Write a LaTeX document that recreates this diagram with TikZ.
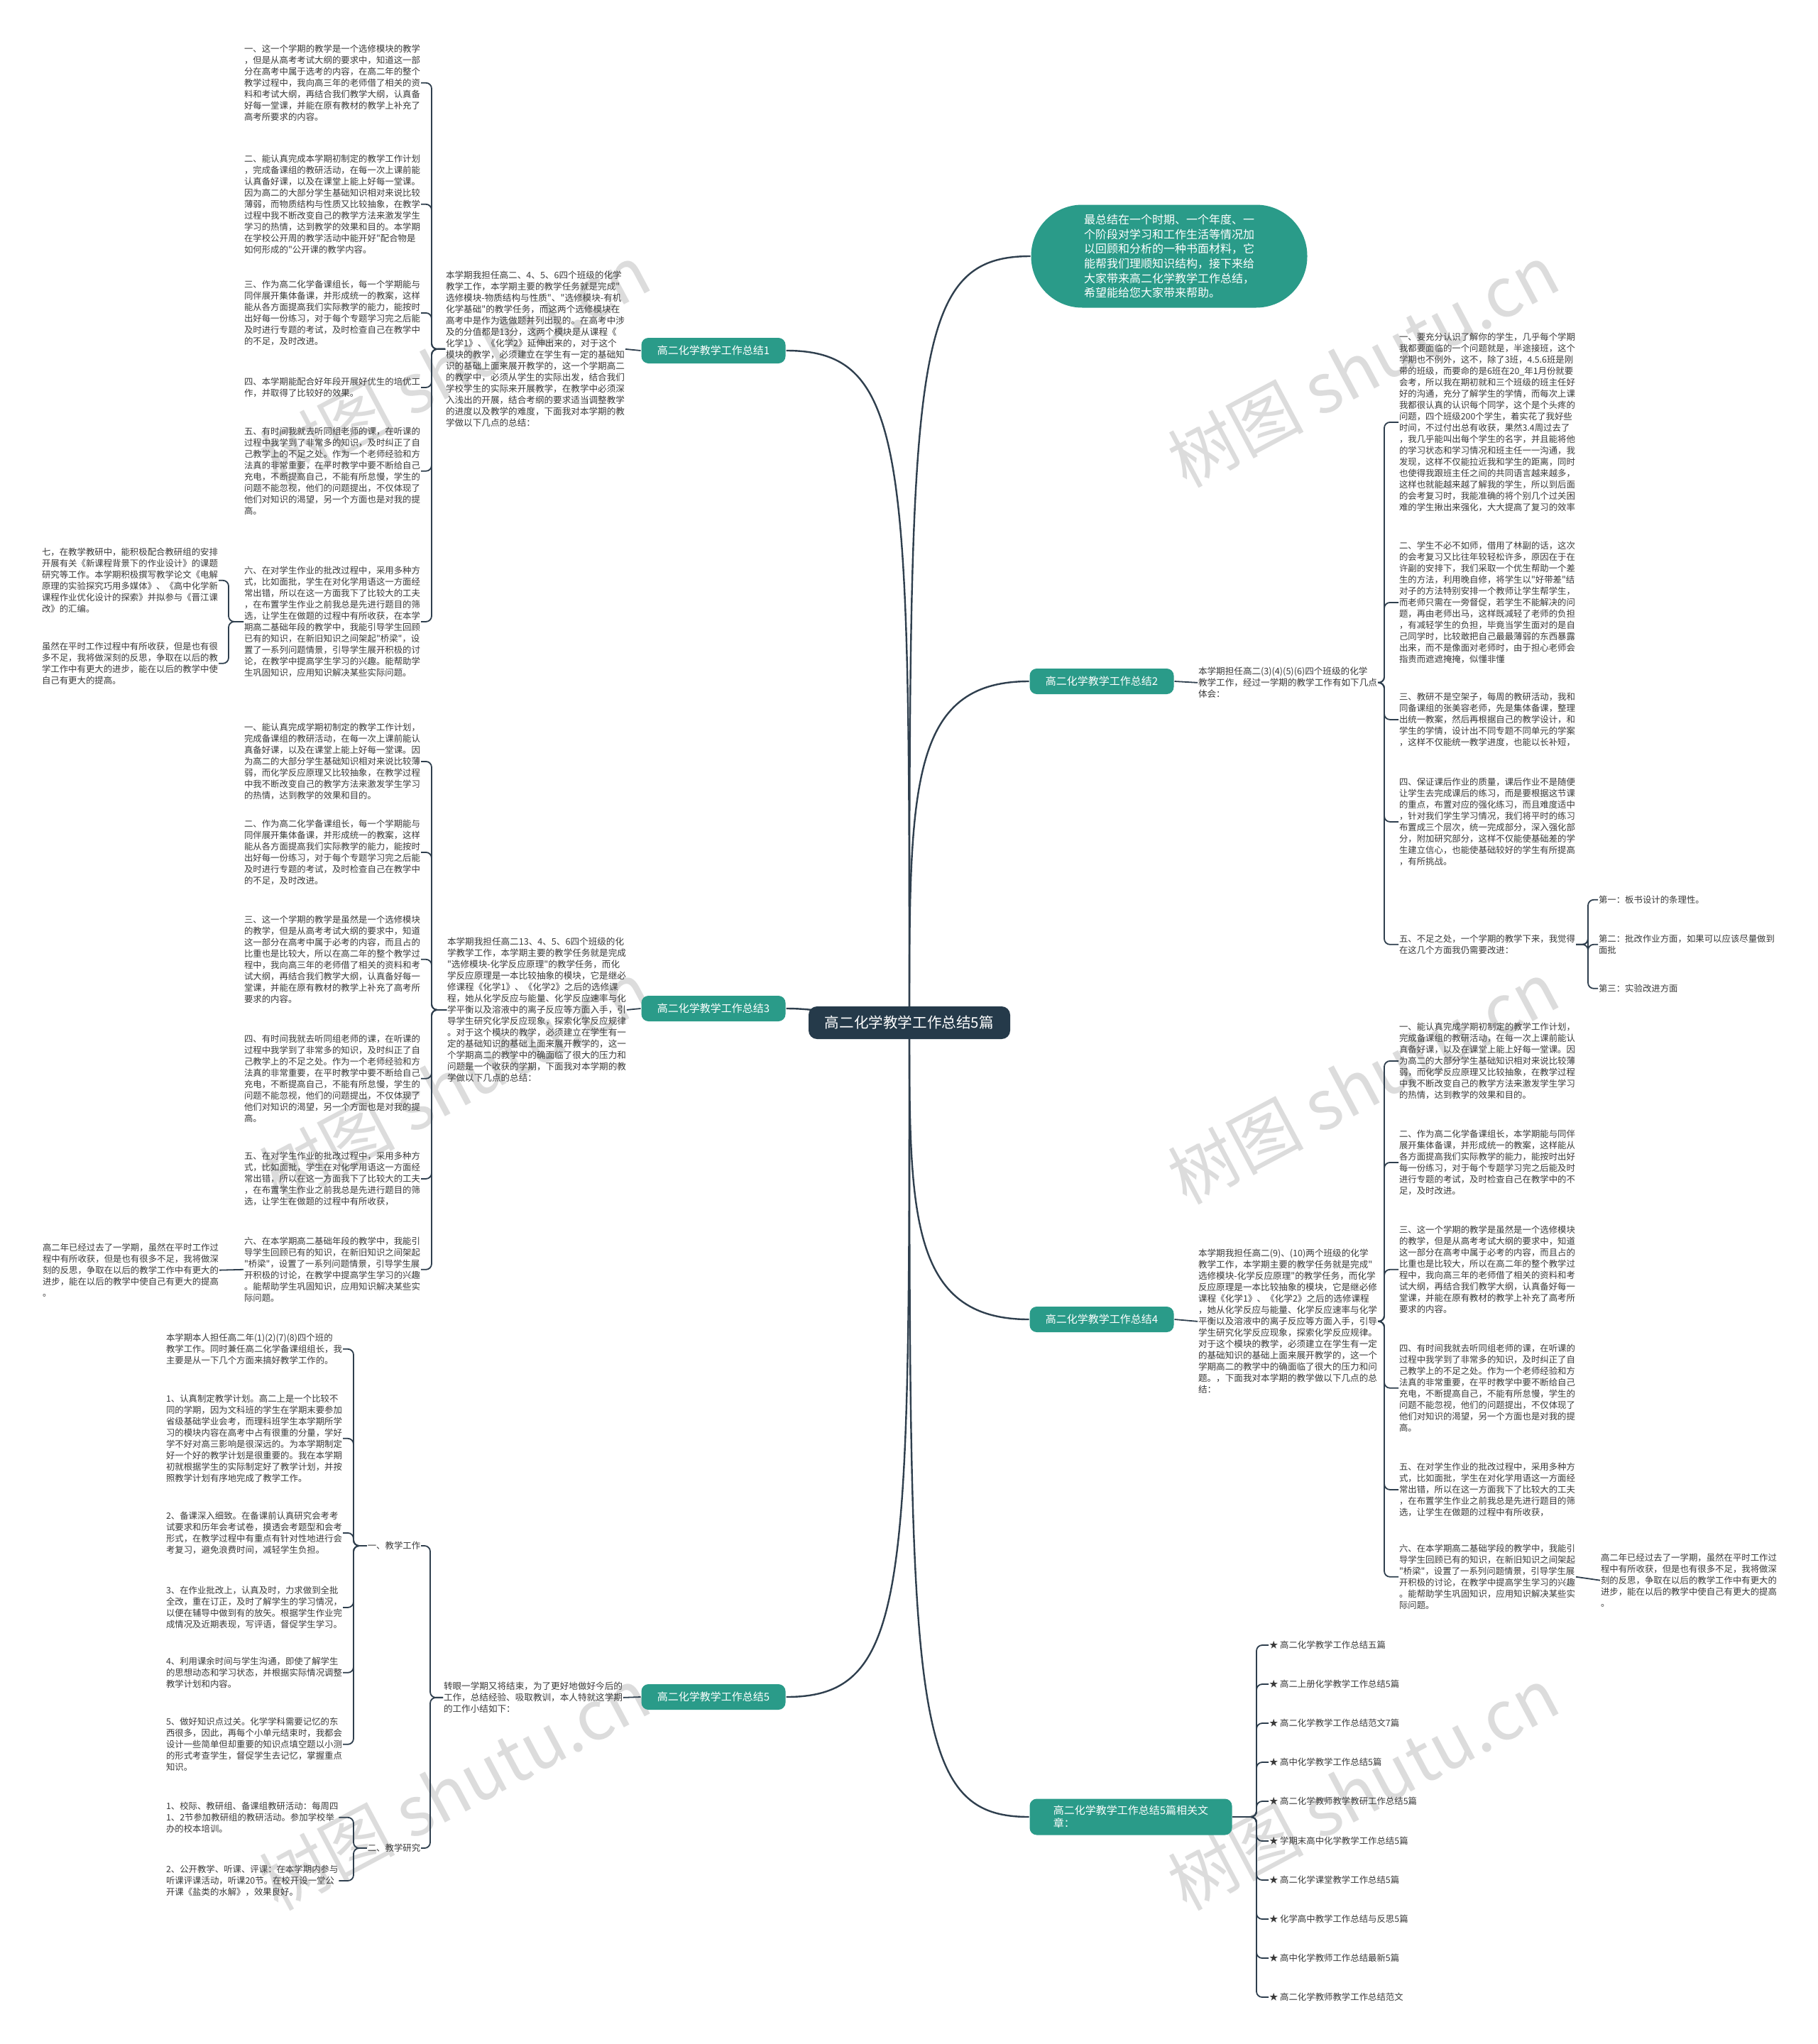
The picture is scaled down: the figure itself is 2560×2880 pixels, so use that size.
\documentclass[tikz,border=0pt]{standalone}
\usepackage{fontspec}
\newfontfamily\cjk{Noto Sans CJK SC}
\usetikzlibrary{calc, backgrounds}
\definecolor{cteal}{HTML}{2A9B89}
\definecolor{croot}{HTML}{253A4A}
\definecolor{cline}{HTML}{2F3F4E}
\definecolor{ctext}{HTML}{3A3A3A}
\definecolor{cwater}{HTML}{DCDCDC}
\tikzset{
  every picture/.style={font=\cjk, line width=1pt},
  hub/.style={fill=croot, text=white, rounded corners=6pt, minimum width=142pt, minimum height=23pt, font=\cjk\fontsize{10.3}{12}\selectfont},
  topic/.style={fill=cteal, text=white, rounded corners=5pt, minimum width=101.5pt, minimum height=18pt, inner sep=2pt, font=\cjk\fontsize{7.5}{9}\selectfont},
  bubble/.style={fill=cteal, text=white, rounded corners=36pt, minimum width=194.5pt, minimum height=72.5pt, align=left, font=\cjk\fontsize{8}{10.35}\selectfont},
  para/.style={anchor=north west, align=left, inner sep=0pt, text=ctext, font=\cjk\fontsize{6.2}{8}\selectfont},
  lead/.style={para, font=\cjk\fontsize{6.3}{8}\selectfont},
  leaf/.style={inner sep=0pt, text=ctext, font=\cjk\fontsize{6.2}{8}\selectfont},
  trunk/.style={draw=cline, line width=1.2pt},
  link/.style={draw=cline, line width=0.9pt, rounded corners=4pt},
  wmark/.style={text=cwater, rotate=28, font=\cjk\fontsize{48}{48}\selectfont},
}

\begin{document}
\begin{tikzpicture}[x=0.5pt, y=-0.5pt]
  \useasboundingbox (0,0) rectangle (2560,2880);

  % centre, intro and topics
  \node[hub] (root) at (1281,1441) {高二化学教学工作总结5篇};
  \node[bubble] (intro) at (1647,361) {最总结在一个时期、一个年度、一\\个阶段对学习和工作生活等情况加\\以回顾和分析的一种书面材料，它\\能帮我们理顺知识结构，接下来给\\大家带来高二化学教学工作总结，\\希望能给您大家带来帮助。};
  \node[topic] (b1) at (1005,494) {高二化学教学工作总结1};
  \node[topic] (b3) at (1005,1421) {高二化学教学工作总结3};
  \node[topic] (b5) at (1005,2391) {高二化学教学工作总结5};
  \node[topic] (b2) at (1552,960) {高二化学教学工作总结2};
  \node[topic] (b4) at (1552,1859) {高二化学教学工作总结4};
  \node[topic, align=left, minimum width=142.5pt, minimum height=25.5pt] (rel) at (1593,2560) {高二化学教学工作总结5篇相关文\\章：};

  % bracket columns
  \coordinate (br1) at (608,0);
  \coordinate (brf1) at (322,0);
  \coordinate (br3) at (608,0);
  \coordinate (br5) at (606,0);
  \coordinate (brk) at (498,0);
  \coordinate (br2) at (1950,0);
  \coordinate (brq) at (2237,0);
  \coordinate (br4) at (1950,0);
  \coordinate (brr) at (1770,0);

  % topic 1
  \node[lead] (d1) at (627,381) {本学期我担任高二、4、5、6四个班级的化学\\教学工作，本学期主要的教学任务就是完成"\\选修模块-物质结构与性质"、"选修模块-有机\\化学基础"的教学任务，而这两个选修模块在\\高考中是作为选做题并列出现的。在高考中涉\\及的分值都是13分，这两个模块是从课程《\\化学1》、《化学2》延伸出来的，对于这个\\模块的教学，必须建立在学生有一定的基础知\\识的基础上面来展开教学的，这一个学期高二\\的教学中，必须从学生的实际出发，结合我们\\学校学生的实际来开展教学，在教学中必须深\\入浅出的开展，结合考纲的要求适当调整教学\\的进度以及教学的难度，下面我对本学期的教\\学做以下几点的总结：};
  \node[para] (i1) at (343,62) {一、这一个学期的教学是一个选修模块的教学\\，但是从高考考试大纲的要求中，知道这一部\\分在高考中属于选考的内容，在高二年的整个\\教学过程中，我向高三年的老师借了相关的资\\料和考试大纲，再结合我们教学大纲，认真备\\好每一堂课，并能在原有教材的教学上补充了\\高考所要求的内容。};
  \node[para] (i2) at (343,217) {二、能认真完成本学期初制定的教学工作计划\\，完成备课组的教研活动，在每一次上课前能\\认真备好课，以及在课堂上能上好每一堂课。\\因为高二的大部分学生基础知识相对来说比较\\薄弱，而物质结构与性质又比较抽象，在教学\\过程中我不断改变自己的教学方法来激发学生\\学习的热情，达到教学的效果和目的。本学期\\在学校公开周的教学活动中能开好"配合物是\\如何形成的"公开课的教学内容。};
  \node[para] (i3) at (343,394) {三、作为高二化学备课组长，每一个学期能与\\同伴展开集体备课，并形成统一的教案，这样\\能从各方面提高我们实际教学的能力，能按时\\出好每一份练习，对于每个专题学习完之后能\\及时进行专题的考试，及时检查自己在教学中\\的不足，及时改进。};
  \node[para] (i4) at (343,531) {四、本学期能配合好年段开展好优生的培优工\\作，并取得了比较好的效果。};
  \node[para] (i5) at (343,601) {五、有时间我就去听同组老师的课，在听课的\\过程中我学到了非常多的知识，及时纠正了自\\己教学上的不足之处。作为一个老师经验和方\\法真的非常重要，在平时教学中要不断给自己\\充电，不断提高自己，不能有所怠慢，学生的\\问题不能忽视，他们的问题提出，不仅体现了\\他们对知识的渴望，另一个方面也是对我的提\\高。};
  \node[para] (i6) at (343,797) {六、在对学生作业的批改过程中，采用多种方\\式，比如面批，学生在对化学用语这一方面经\\常出错，所以在这一方面我下了比较大的工夫\\，在布置学生作业之前我总是先进行题目的筛\\选，让学生在做题的过程中有所收获，在本学\\期高二基础年段的教学中，我能引导学生回顾\\已有的知识，在新旧知识之间架起"桥梁"，设\\置了一系列问题情景，引导学生展开积极的讨\\论，在教学中提高学生学习的兴趣。能帮助学\\生巩固知识，应用知识解决某些实际问题。};
  \node[para] (f1) at (58,771) {七，在教学教研中，能积极配合教研组的安排\\开展有关《新课程背景下的作业设计》的课题\\研究等工作。本学期积极撰写教学论文《电解\\原理的实验探究巧用多媒体》、《高中化学新\\课程作业优化设计的探索》并拟参与《晋江课\\改》的汇编。};
  \node[para] (f2) at (58,904) {虽然在平时工作过程中有所收获，但是也有很\\多不足，我将做深刻的反思，争取在以后的教\\学工作中有更大的进步，能在以后的教学中使\\自己有更大的提高。};

  % topic 3
  \node[lead] (d3) at (629,1320) {本学期我担任高二13、4、5、6四个班级的化\\学教学工作，本学期主要的教学任务就是完成\\"选修模块-化学反应原理"的教学任务，而化\\学反应原理是一本比较抽象的模块，它是继必\\修课程《化学1》、《化学2》之后的选修课\\程，她从化学反应与能量、化学反应速率与化\\学平衡以及溶液中的离子反应等方面入手，引\\导学生研究化学反应现象，探索化学反应规律\\。对于这个模块的教学，必须建立在学生有一\\定的基础知识的基础上面来展开教学的，这一\\个学期高二的教学中的确面临了很大的压力和\\问题是一个收获的学期，下面我对本学期的教\\学做以下几点的总结：};
  \node[para] (j1) at (343,1018) {一、能认真完成学期初制定的教学工作计划，\\完成备课组的教研活动，在每一次上课前能认\\真备好课，以及在课堂上能上好每一堂课。因\\为高二的大部分学生基础知识相对来说比较薄\\弱，而化学反应原理又比较抽象，在教学过程\\中我不断改变自己的教学方法来激发学生学习\\的热情，达到教学的效果和目的。};
  \node[para] (j2) at (343,1154) {二、作为高二化学备课组长，每一个学期能与\\同伴展开集体备课，并形成统一的教案，这样\\能从各方面提高我们实际教学的能力，能按时\\出好每一份练习，对于每个专题学习完之后能\\及时进行专题的考试，及时检查自己在教学中\\的不足，及时改进。};
  \node[para] (j3) at (343,1289) {三、这一个学期的教学是虽然是一个选修模块\\的教学，但是从高考考试大纲的要求中，知道\\这一部分在高考中属于必考的内容，而且占的\\比重也是比较大，所以在高二年的整个教学过\\程中，我向高三年的老师借了相关的资料和考\\试大纲，再结合我们教学大纲，认真备好每一\\堂课，并能在原有教材的教学上补充了高考所\\要求的内容。};
  \node[para] (j4) at (343,1457) {四、有时间我就去听同组老师的课，在听课的\\过程中我学到了非常多的知识，及时纠正了自\\己教学上的不足之处。作为一个老师经验和方\\法真的非常重要，在平时教学中要不断给自己\\充电，不断提高自己，不能有所怠慢，学生的\\问题不能忽视，他们的问题提出，不仅体现了\\他们对知识的渴望，另一个方面也是对我的提\\高。};
  \node[para] (j5) at (343,1622) {五、在对学生作业的批改过程中，采用多种方\\式，比如面批，学生在对化学用语这一方面经\\常出错，所以在这一方面我下了比较大的工夫\\，在布置学生作业之前我总是先进行题目的筛\\选，让学生在做题的过程中有所收获，};
  \node[para] (j6) at (343,1742) {六、在本学期高二基础年段的教学中，我能引\\导学生回顾已有的知识，在新旧知识之间架起\\"桥梁"，设置了一系列问题情景，引导学生展\\开积极的讨论，在教学中提高学生学习的兴趣\\。能帮助学生巩固知识，应用知识解决某些实\\际问题。};
  \node[para] (far3) at (59,1751) {高二年已经过去了一学期，虽然在平时工作过\\程中有所收获，但是也有很多不足，我将做深\\刻的反思，争取在以后的教学工作中有更大的\\进步，能在以后的教学中使自己有更大的提高\\。};

  % topic 5
  \node[lead] (d5) at (624,2369) {转眼一学期又将结束，为了更好地做好今后的\\工作，总结经验、吸取教训，本人特就这学期\\的工作小结如下：};
  \node[leaf] (w1) at (555,2178) {一、教学工作};
  \node[leaf] (w2) at (555,2604) {二、教学研究};
  \node[para] (k0) at (233,1878) {本学期本人担任高二年(1)(2)(7)(8)四个班的\\教学工作。同时兼任高二化学备课组组长，我\\主要是从一下几个方面来搞好教学工作的。};
  \node[para] (k1) at (233,1964) {1、认真制定教学计划。高二上是一个比较不\\同的学期，因为文科班的学生在学期末要参加\\省级基础学业会考，而理科班学生本学期所学\\习的模块内容在高考中占有很重的分量，学好\\学不好对高三影响是很深远的。为本学期制定\\好一个好的教学计划是很重要的。我在本学期\\初就根据学生的实际制定好了教学计划，并按\\照教学计划有序地完成了教学工作。};
  \node[para] (k2) at (233,2129) {2、备课深入细致。在备课前认真研究会考考\\试要求和历年会考试卷，摸透会考题型和会考\\形式，在教学过程中有重点有针对性地进行会\\考复习，避免浪费时间，减轻学生负担。};
  \node[para] (k3) at (233,2234) {3、在作业批改上，认真及时，力求做到全批\\全改，重在订正，及时了解学生的学习情况，\\以便在辅导中做到有的放矢。根据学生作业完\\成情况及近期表现，写评语，督促学生学习。};
  \node[para] (k4) at (233,2334) {4、利用课余时间与学生沟通，即使了解学生\\的思想动态和学习状态，并根据实际情况调整\\教学计划和内容。};
  \node[para] (k5) at (233,2419) {5、做好知识点过关。化学学科需要记忆的东\\西很多，因此，再每个小单元结束时，我都会\\设计一些简单但却重要的知识点填空题以小测\\的形式考查学生，督促学生去记忆，掌握重点\\知识。};
  \node[para] (m1) at (233,2538) {1、校际、教研组、备课组教研活动：每周四\\1、2节参加教研组的教研活动。参加学校举\\办的校本培训。};
  \node[para] (m2) at (233,2627) {2、公开教学、听课、评课：在本学期内参与\\听课评课活动，听课20节。在校开设一堂公\\开课《盐类的水解》，效果良好。};

  % topic 2
  \node[lead] (d2) at (1687,939) {本学期担任高二(3)(4)(5)(6)四个班级的化学\\教学工作，经过一学期的教学工作有如下几点\\体会：};
  \node[para] (p1) at (1970,468) {一、要充分认识了解你的学生，几乎每个学期\\我都要面临的一个问题就是，半途接班，这个\\学期也不例外，这不，除了3班，4.5.6班是刚\\带的班级，而要命的是6班在20\_年1月份就要\\会考，所以我在期初就和三个班级的班主任好\\好的沟通，充分了解学生的学情，而每次上课\\我都很认真的认识每个同学，这个是个头疼的\\问题，四个班级200个学生，着实花了我好些\\时间，不过付出总有收获，果然3.4周过去了\\，我几乎能叫出每个学生的名字，并且能将他\\的学习状态和学习情况和班主任一一沟通，我\\发现，这样不仅能拉近我和学生的距离，同时\\也使得我跟班主任之间的共同语言越来越多，\\这样也就能越来越了解我的学生，所以到后面\\的会考复习时，我能准确的将个别几个过关困\\难的学生揪出来强化，大大提高了复习的效率};
  \node[para] (p2) at (1970,762) {二、学生不必不如师，借用了林副的话，这次\\的会考复习又比往年较轻松许多，原因在于在\\许副的安排下，我们采取一个优生帮助一个差\\生的方法，利用晚自修，将学生以"好带差"结\\对子的方法特别安排一个教师让学生帮学生，\\而老师只需在一旁督促，若学生不能解决的问\\题，再由老师出马，这样既减轻了老师的负担\\，有减轻学生的负担，毕竟当学生面对的是自\\己同学时，比较敢把自己最最薄弱的东西暴露\\出来，而不是像面对老师时，由于担心老师会\\指责而遮遮掩掩，似懂非懂};
  \node[para] (p3) at (1970,975) {三、教研不是空架子，每周的教研活动，我和\\同备课组的张美容老师，先是集体备课，整理\\出统一教案，然后再根据自己的教学设计，和\\学生的学情，设计出不同专题不同单元的学案\\，这样不仅能统一教学进度，也能以长补短，};
  \node[para] (p4) at (1970,1095) {四、保证课后作业的质量，课后作业不是随便\\让学生去完成课后的练习，而是要根据这节课\\的重点，布置对应的强化练习，而且难度适中\\，针对我们学生学习情况，我们将平时的练习\\布置成三个层次，统一完成部分，深入强化部\\分，附加研究部分，这样不仅能使基础差的学\\生建立信心，也能使基础较好的学生有所提高\\，有所挑战。};
  \node[para] (p5) at (1970,1316) {五、不足之处，一个学期的教学下来，我觉得\\在这几个方面我仍需要改进：};
  \node[para] (q1) at (2251,1261) {第一：板书设计的条理性。};
  \node[para] (q2) at (2251,1316) {第二：批改作业方面，如果可以应该尽量做到\\面批};
  \node[para] (q3) at (2251,1386) {第三：实验改进方面};

  % topic 4
  \node[lead] (d4) at (1687,1759) {本学期我担任高二(9)、(10)两个班级的化学\\教学工作，本学期主要的教学任务就是完成"\\选修模块-化学反应原理"的教学任务，而化学\\反应原理是一本比较抽象的模块，它是继必修\\课程《化学1》、《化学2》之后的选修课程\\，她从化学反应与能量、化学反应速率与化学\\平衡以及溶液中的离子反应等方面入手，引导\\学生研究化学反应现象，探索化学反应规律。\\对于这个模块的教学，必须建立在学生有一定\\的基础知识的基础上面来展开教学的，这一个\\学期高二的教学中的确面临了很大的压力和问\\题。，下面我对本学期的教学做以下几点的总\\结：};
  \node[para] (r1) at (1970,1440) {一、能认真完成学期初制定的教学工作计划，\\完成备课组的教研活动，在每一次上课前能认\\真备好课，以及在课堂上能上好每一堂课。因\\为高二的大部分学生基础知识相对来说比较薄\\弱，而化学反应原理又比较抽象，在教学过程\\中我不断改变自己的教学方法来激发学生学习\\的热情，达到教学的效果和目的。};
  \node[para] (r2) at (1970,1591) {二、作为高二化学备课组长，本学期能与同伴\\展开集体备课，并形成统一的教案，这样能从\\各方面提高我们实际教学的能力，能按时出好\\每一份练习，对于每个专题学习完之后能及时\\进行专题的考试，及时检查自己在教学中的不\\足，及时改进。};
  \node[para] (r3) at (1970,1726) {三、这一个学期的教学是虽然是一个选修模块\\的教学，但是从高考考试大纲的要求中，知道\\这一部分在高考中属于必考的内容，而且占的\\比重也是比较大，所以在高二年的整个教学过\\程中，我向高三年的老师借了相关的资料和考\\试大纲，再结合我们教学大纲，认真备好每一\\堂课，并能在原有教材的教学上补充了高考所\\要求的内容。};
  \node[para] (r4) at (1970,1893) {四、有时间我就去听同组老师的课，在听课的\\过程中我学到了非常多的知识，及时纠正了自\\己教学上的不足之处。作为一个老师经验和方\\法真的非常重要，在平时教学中要不断给自己\\充电，不断提高自己，不能有所怠慢，学生的\\问题不能忽视，他们的问题提出，不仅体现了\\他们对知识的渴望，另一个方面也是对我的提\\高。};
  \node[para] (r5) at (1970,2060) {五、在对学生作业的批改过程中，采用多种方\\式，比如面批，学生在对化学用语这一方面经\\常出错，所以在这一方面我下了比较大的工夫\\，在布置学生作业之前我总是先进行题目的筛\\选，让学生在做题的过程中有所收获，};
  \node[para] (r6) at (1970,2175) {六、在本学期高二基础学段的教学中，我能引\\导学生回顾已有的知识，在新旧知识之间架起\\"桥梁"，设置了一系列问题情景，引导学生展\\开积极的讨论，在教学中提高学生学习的兴趣\\。能帮助学生巩固知识，应用知识解决某些实\\际问题。};
  \node[para] (farR) at (2254,2188) {高二年已经过去了一学期，虽然在平时工作过\\程中有所收获，但是也有很多不足，我将做深\\刻的反思，争取在以后的教学工作中有更大的\\进步，能在以后的教学中使自己有更大的提高\\。};

  % related articles
  \node[leaf, anchor=west] (a1) at (1787,2318) {★ 高二化学教学工作总结五篇};
  \node[leaf, anchor=west] (a2) at (1787,2373) {★ 高二上册化学教学工作总结5篇};
  \node[leaf, anchor=west] (a3) at (1787,2428) {★ 高二化学教学工作总结范文7篇};
  \node[leaf, anchor=west] (a4) at (1787,2483) {★ 高中化学教学工作总结5篇};
  \node[leaf, anchor=west] (a5) at (1787,2538) {★ 高二化学教师教学教研工作总结5篇};
  \node[leaf, anchor=west] (a6) at (1787,2594) {★ 学期末高中化学教学工作总结5篇};
  \node[leaf, anchor=west] (a7) at (1787,2649) {★ 高二化学课堂教学工作总结5篇};
  \node[leaf, anchor=west] (a8) at (1787,2704) {★ 化学高中教学工作总结与反思5篇};
  \node[leaf, anchor=west] (a9) at (1787,2759) {★ 高中化学教师工作总结最新5篇};
  \node[leaf, anchor=west] (a10) at (1787,2814) {★ 高二化学教师教学工作总结范文};

  \begin{scope}[on background layer]
    \fill[white] (0,0) rectangle (2560,2880);
    % watermarks
    \node[wmark] (wm1) at (640,515) {树图 shutu.cn};
    \node[wmark] (wm2) at (640,1525) {树图 shutu.cn};
    \node[wmark] (wm3) at (640,2520) {树图 shutu.cn};
    \node[wmark] (wm4) at (1920,515) {树图 shutu.cn};
    \node[wmark] (wm5) at (1920,1525) {树图 shutu.cn};
    \node[wmark] (wm6) at (1920,2520) {树图 shutu.cn};

    % root to topics
    \draw[trunk] (root.center) .. controls ($(root.center |- b1.east)+(0,150)$) and (root.center |- b1.east) .. (b1.east);
    \draw[trunk] (root.center) to[out=180, in=0] (b3.east);
    \draw[trunk] (root.center) .. controls ($(root.center |- b5.east)+(0,-150)$) and (root.center |- b5.east) .. (b5.east);
    \draw[trunk] (root.center) .. controls ($(root.center |- intro.west)+(0,150)$) and (root.center |- intro.west) .. (intro.west);
    \draw[trunk] (root.center) .. controls ($(root.center |- b2.west)+(0,150)$) and (root.center |- b2.west) .. (b2.west);
    \draw[trunk] (root.center) .. controls ($(root.center |- b4.west)+(0,-150)$) and (root.center |- b4.west) .. (b4.west);
    \draw[trunk] (root.center) .. controls ($(root.center |- rel.west)+(0,-150)$) and (root.center |- rel.west) .. (rel.west);

    % topic 1
    \draw[link] (b1.west) -- (d1.east);
    \draw[link] (d1.west) -- (d1.west -| br1) |- (i1.east);
    \draw[link] (d1.west) -- (d1.west -| br1) |- (i2.east);
    \draw[link] (d1.west) -- (d1.west -| br1) |- (i3.east);
    \draw[link] (d1.west) -- (d1.west -| br1) |- (i4.east);
    \draw[link] (d1.west) -- (d1.west -| br1) |- (i5.east);
    \draw[link] (d1.west) -- (d1.west -| br1) |- (i6.east);
    \draw[link] (i6.west) -- (i6.west -| brf1) |- (f1.east);
    \draw[link] (i6.west) -- (i6.west -| brf1) |- (f2.east);

    % topic 3
    \draw[link] (b3.west) -- (d3.east);
    \draw[link] (d3.west) -- (d3.west -| br3) |- (j1.east);
    \draw[link] (d3.west) -- (d3.west -| br3) |- (j2.east);
    \draw[link] (d3.west) -- (d3.west -| br3) |- (j3.east);
    \draw[link] (d3.west) -- (d3.west -| br3) |- (j4.east);
    \draw[link] (d3.west) -- (d3.west -| br3) |- (j5.east);
    \draw[link] (d3.west) -- (d3.west -| br3) |- (j6.east);
    \draw[link] (j6.west) -- (far3.east);

    % topic 5
    \draw[link] (b5.west) -- (d5.east);
    \draw[link] (d5.west) -- (d5.west -| br5) |- (w1.east);
    \draw[link] (d5.west) -- (d5.west -| br5) |- (w2.east);
    \draw[link] (w1.west) -- (w1.west -| brk) |- (k0.east);
    \draw[link] (w1.west) -- (w1.west -| brk) |- (k1.east);
    \draw[link] (w1.west) -- (w1.west -| brk) |- (k2.east);
    \draw[link] (w1.west) -- (w1.west -| brk) |- (k3.east);
    \draw[link] (w1.west) -- (w1.west -| brk) |- (k4.east);
    \draw[link] (w1.west) -- (w1.west -| brk) |- (k5.east);
    \draw[link] (w2.west) -- (w2.west -| brk) |- (m1.east);
    \draw[link] (w2.west) -- (w2.west -| brk) |- (m2.east);

    % topic 2
    \draw[link] (b2.east) -- (d2.west);
    \draw[link] (d2.east) -- (d2.east -| br2) |- (p1.west);
    \draw[link] (d2.east) -- (d2.east -| br2) |- (p2.west);
    \draw[link] (d2.east) -- (d2.east -| br2) |- (p3.west);
    \draw[link] (d2.east) -- (d2.east -| br2) |- (p4.west);
    \draw[link] (d2.east) -- (d2.east -| br2) |- (p5.west);
    \draw[link] (p5.east) -- (p5.east -| brq) |- (q1.west);
    \draw[link] (p5.east) -- (p5.east -| brq) |- (q2.west);
    \draw[link] (p5.east) -- (p5.east -| brq) |- (q3.west);

    % topic 4
    \draw[link] (b4.east) -- (d4.west);
    \draw[link] (d4.east) -- (d4.east -| br4) |- (r1.west);
    \draw[link] (d4.east) -- (d4.east -| br4) |- (r2.west);
    \draw[link] (d4.east) -- (d4.east -| br4) |- (r3.west);
    \draw[link] (d4.east) -- (d4.east -| br4) |- (r4.west);
    \draw[link] (d4.east) -- (d4.east -| br4) |- (r5.west);
    \draw[link] (d4.east) -- (d4.east -| br4) |- (r6.west);
    \draw[link] (r6.east) -- (farR.west);

    % related articles
    \draw[link] (rel.east) -- (rel.east -| brr) |- (a1.west);
    \draw[link] (rel.east) -- (rel.east -| brr) |- (a2.west);
    \draw[link] (rel.east) -- (rel.east -| brr) |- (a3.west);
    \draw[link] (rel.east) -- (rel.east -| brr) |- (a4.west);
    \draw[link] (rel.east) -- (rel.east -| brr) |- (a5.west);
    \draw[link] (rel.east) -- (rel.east -| brr) |- (a6.west);
    \draw[link] (rel.east) -- (rel.east -| brr) |- (a7.west);
    \draw[link] (rel.east) -- (rel.east -| brr) |- (a8.west);
    \draw[link] (rel.east) -- (rel.east -| brr) |- (a9.west);
    \draw[link] (rel.east) -- (rel.east -| brr) |- (a10.west);
  \end{scope}
\end{tikzpicture}
\end{document}
